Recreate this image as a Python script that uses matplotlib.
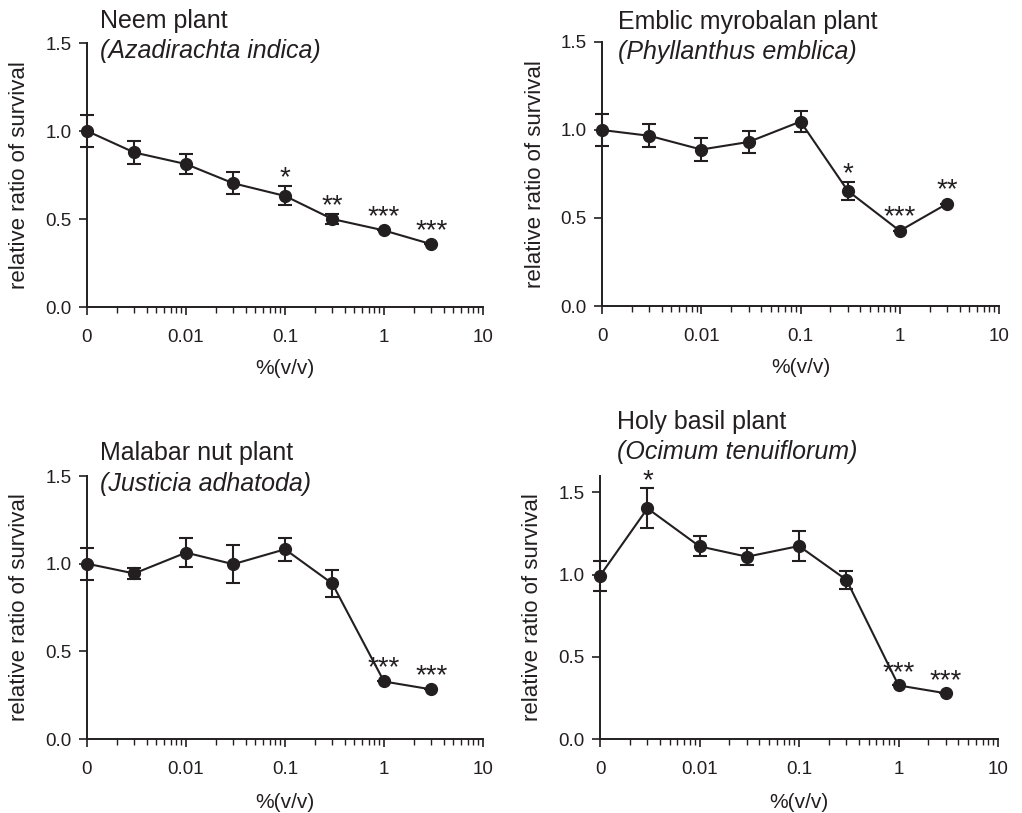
import numpy as np
import matplotlib.pyplot as plt
from matplotlib.ticker import LogLocator, NullFormatter

plt.rcParams['font.family'] = ['Liberation Sans', 'DejaVu Sans']

W, H = 1022, 813
INK = '#231f20'

conc = [0, 0.003, 0.01, 0.03, 0.1, 0.3, 1, 3]
zero_pos = 0.001  # the untreated control ("0") sits one decade left of 0.01

neem_mean = [1.00, 0.878, 0.812, 0.703, 0.631, 0.50, 0.435, 0.357]
neem_err = [0.09, 0.065, 0.058, 0.062, 0.054, 0.03, 0.0, 0.0]
neem_sig = ['', '', '', '', '*', '**', '***', '***']

emblic_mean = [1.00, 0.967, 0.889, 0.932, 1.048, 0.654, 0.427, 0.581]
emblic_err = [0.092, 0.066, 0.065, 0.065, 0.06, 0.052, 0.0, 0.0]
emblic_sig = ['', '', '', '', '', '*', '***', '**']

malabar_mean = [1.00, 0.944, 1.063, 0.997, 1.082, 0.887, 0.328, 0.283]
malabar_err = [0.092, 0.03, 0.083, 0.11, 0.065, 0.077, 0.0, 0.0]
malabar_sig = ['', '', '', '', '', '', '***', '***']

basil_mean = [0.993, 1.403, 1.172, 1.109, 1.174, 0.968, 0.326, 0.278]
basil_err = [0.092, 0.122, 0.06, 0.052, 0.09, 0.055, 0.0, 0.0]
basil_sig = ['', '*', '', '', '', '', '***', '***']

panels = [
    # name, latin, mean, err, sig, ymax, axes box (px: left, top, right, bottom), title x, title baselines
    ('Neem plant', '(Azadirachta indica)', neem_mean, neem_err, neem_sig, 1.5,
     (87, 43, 483, 307), 100, (28, 58)),
    ('Emblic myrobalan plant', '(Phyllanthus emblica)', emblic_mean, emblic_err, emblic_sig, 1.5,
     (602, 42, 999, 306), 618, (29, 59)),
    ('Malabar nut plant', '(Justicia adhatoda)', malabar_mean, malabar_err, malabar_sig, 1.5,
     (87, 476, 483, 739), 100, (460, 491)),
    ('Holy basil plant', '(Ocimum tenuiflorum)', basil_mean, basil_err, basil_sig, 1.6,
     (600, 476, 998, 739), 617, (429, 459)),
]

xpos = np.array([zero_pos if c == 0 else c for c in conc])

fig = plt.figure(figsize=(W / 100, H / 100), dpi=100)

for name, latin, mean, err, sig, ymax, box, tx, tys in panels:
    l, t, r, b = box
    ax = fig.add_axes([l / W, 1 - b / H, (r - l) / W, (b - t) / H])
    ax.errorbar(xpos, mean, yerr=err, color=INK, lw=1.5, marker='o', ms=8.5,
                elinewidth=1.5, capsize=5, capthick=1.5, clip_on=False, zorder=3)
    for x, m, e, s in zip(xpos, mean, err, sig):
        if s:
            ax.text(x, m + max(e, 0.03) + 0.045, s, ha='center', va='center',
                    fontsize=20, color=INK)

    ax.set_xscale('log')
    ax.set_xlim(zero_pos, 10)
    ax.set_ylim(0, ymax)
    ax.set_xticks([0.001, 0.01, 0.1, 1, 10], labels=['0', '0.01', '0.1', '1', '10'])
    ax.xaxis.set_minor_locator(LogLocator(base=10, subs=np.arange(2, 10)))
    ax.xaxis.set_minor_formatter(NullFormatter())
    ax.set_yticks([0, 0.5, 1.0, 1.5], labels=['0.0', '0.5', '1.0', '1.5'])

    for side in ('top', 'right'):
        ax.spines[side].set_visible(False)
    for side in ('left', 'bottom'):
        ax.spines[side].set_linewidth(1.4)
        ax.spines[side].set_color(INK)
    ax.tick_params(axis='both', which='major', direction='out', length=6, width=1.2,
                   colors=INK, labelsize=13.5, labelcolor=INK)
    ax.tick_params(axis='x', which='major', pad=10)
    ax.tick_params(axis='y', which='major', pad=5)
    ax.tick_params(axis='x', which='minor', direction='out', length=4, width=1.0, colors=INK)

    ax.set_ylabel('relative ratio of survival', fontsize=16, color=INK, va='center')
    ax.yaxis.set_label_coords(-67 / (r - l), 0.5)
    ax.set_xlabel('%(v/v)', fontsize=15, color=INK, va='center')
    xl_y = b + (61 if b < 400 else 63)
    ax.xaxis.set_label_coords(0.5, -(xl_y - b) / (b - t))

    fig.text(tx / W, 1 - tys[0] / H, name, fontsize=18, color=INK, va='baseline')
    fig.text(tx / W, 1 - tys[1] / H, latin, fontsize=18, color=INK, va='baseline',
             style='italic')

fig.savefig('out.png', dpi=100)
